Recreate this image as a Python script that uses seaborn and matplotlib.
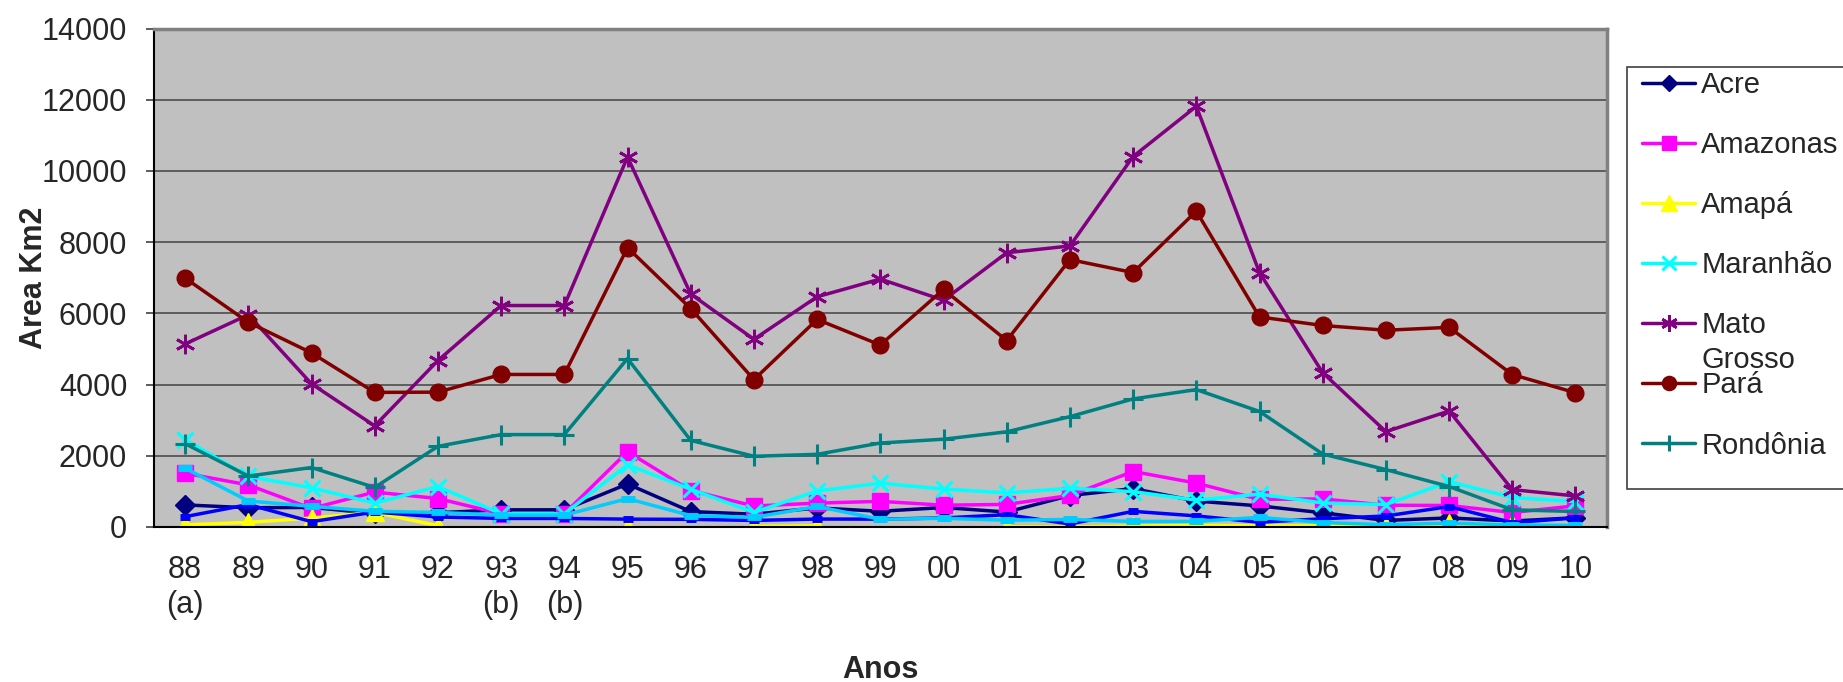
import numpy as np
import pandas as pd
import matplotlib.pyplot as plt
from matplotlib.lines import Line2D
from matplotlib.patches import Rectangle
import seaborn as sns

anos = ["88", "89", "90", "91", "92", "93", "94", "95", "96", "97", "98", "99",
        "00", "01", "02", "03", "04", "05", "06", "07", "08", "09", "10"]
rotulos = ["88\n(a)", "89", "90", "91", "92", "93\n(b)", "94\n(b)", "95", "96", "97",
           "98", "99", "00", "01", "02", "03", "04", "05", "06", "07", "08", "09", "10"]

nan = np.nan
acre = [620, 540, 550, 380, 400, 482, 482, 1208, 433, 358, 536, 441, 547, 419,
        883, 1078, 728, 592, 398, 184, 254, 167, 259]
amazonas = [1510, 1180, 520, 980, 799, 370, 370, 2114, 1023, 589, 670, 720, 612,
            634, 885, 1558, 1232, 775, 788, 610, 604, 405, 595]
amapa = [60, 130, 250, 410, 36, nan, nan, 9, nan, 18, 30, nan, nan, 7, 0, 25,
         46, 33, 30, 39, 100, 70, 53]
maranhao = [2450, 1420, 1100, 670, 1135, 372, 372, 1745, 1061, 409, 1012, 1230,
            1065, 958, 1085, 993, 755, 922, 674, 631, 1271, 828, 712]
mato_grosso = [5140, 5960, 4020, 2840, 4674, 6220, 6220, 10391, 6543, 5271, 6466,
               6963, 6369, 7703, 7892, 10405, 11814, 7145, 4333, 2678, 3258, 1049, 871]
para = [6990, 5750, 4890, 3780, 3787, 4284, 4284, 7845, 6135, 4139, 5829, 5111,
        6671, 5237, 7510, 7145, 8870, 5899, 5659, 5526, 5607, 4281, 3770]
rondonia = [2340, 1430, 1670, 1110, 2265, 2595, 2595, 4730, 2432, 1986, 2041, 2358,
            2465, 2673, 3099, 3597, 3858, 3244, 2049, 1611, 1136, 482, 435]
roraima = [290, 630, 150, 420, 281, 240, 240, 220, 214, 184, 223, 220, 253, 345,
           84, 439, 311, 133, 231, 309, 574, 121, 256]
tocantins = [1650, 730, 580, 440, 409, 333, 333, 797, 320, 273, 576, 216, 244, 189,
             212, 156, 158, 271, 124, 63, 107, 61, 49]

estados = ["Acre", "Amazonas", "Amapá", "Maranhão", "Mato Grosso", "Pará",
           "Rondônia", "Roraima", "Tocantins"]
valores = [acre, amazonas, amapa, maranhao, mato_grosso, para, rondonia, roraima, tocantins]

# excel-ish marker styles
estilo = {
    "Acre": dict(color="#000080", marker="D", ms=10, mew=1),
    "Amazonas": dict(color="#FF00FF", marker="s", ms=12, mew=1),
    "Amapá": dict(color="#FFFF00", marker="^", ms=13, mew=1),
    "Maranhão": dict(color="#00FFFF", marker="x", ms=12, mew=2.2),
    "Mato Grosso": dict(color="#800080", marker=(6, 2, 0), ms=14, mew=2),
    "Pará": dict(color="#800000", marker="o", ms=12, mew=1),
    "Rondônia": dict(color="#008080", marker="+", ms=14, mew=2.2),
    "Roraima": dict(color="#0000FF", marker="_", ms=7, mew=5),
    "Tocantins": dict(color="#00CCFF", marker="_", ms=10, mew=5),
}

sns.set_style("white")
plt.rcParams["font.family"] = ["Liberation Sans", "DejaVu Sans"]

fig = plt.figure(figsize=(18.43, 6.82), dpi=100)
ax = fig.add_axes([0.0833, 0.2273, 0.7887, 0.7309])
ax.set_facecolor("#C0C0C0")

pos = np.arange(len(anos))
for nome, vals in zip(estados, valores):
    df = pd.DataFrame({"pos": pos, "area": vals})
    # separate segments so missing years leave a gap
    df["seg"] = df["area"].isna().cumsum()
    df = df.dropna()
    st = estilo[nome]
    sns.lineplot(data=df, x="pos", y="area", units="seg", estimator=None, sort=False,
                 ax=ax, color=st["color"], linewidth=2.5, marker=st["marker"],
                 markersize=st["ms"], markeredgewidth=st["mew"],
                 markeredgecolor=st["color"], markerfacecolor=st["color"],
                 legend=False)

ax.set_xlim(-0.5, len(anos) - 0.5)
ax.set_ylim(0, 14000)
ax.set_yticks(np.arange(0, 14001, 2000))
ax.set_xticks(pos, rotulos)
ax.set_xticks(np.arange(len(anos) + 1) - 0.5, minor=True)
ax.tick_params(axis="x", which="major", length=0, pad=20.5, labelsize=22)
ax.tick_params(axis="x", which="minor", length=6, width=1.2, color="#404040", direction="out")
ax.tick_params(axis="y", length=6, width=1.2, color="#404040", direction="out",
               pad=13, labelsize=22, left=True)
ax.yaxis.grid(True, color="#555555", linewidth=1.3)
ax.set_axisbelow(True)

for s in ["left", "bottom"]:
    ax.spines[s].set_color("black")
    ax.spines[s].set_linewidth(1.5)
for s in ["top", "right"]:
    ax.spines[s].set_color("#808080")
    ax.spines[s].set_linewidth(2.5)

ax.set_xlabel("Anos", fontsize=22, fontweight="bold")
ax.set_ylabel("Area Km2", fontsize=22, fontweight="bold")
ax.xaxis.set_label_coords(0.5, -0.256)
ax.yaxis.set_label_coords(-0.072, 0.5)

# legend frame (box runs off the right edge like the original)
fig.patches.append(Rectangle((1627 / 1843, 1 - 489 / 682), 0.2, (489 - 67) / 682,
                             transform=fig.transFigure, facecolor="white",
                             edgecolor="#404040", linewidth=1.2, zorder=0))

handles = []
labels = []
for nome in estados[:7]:
    st = estilo[nome]
    handles.append(Line2D([], [], color=st["color"], linewidth=2.5, marker=st["marker"],
                          markersize=st["ms"] * 0.85, markeredgewidth=st["mew"],
                          markeredgecolor=st["color"], markerfacecolor=st["color"]))
    labels.append("Mato" if nome == "Mato Grosso" else nome)

leg = fig.legend(handles, labels, loc="upper left", bbox_to_anchor=(1642 / 1843, 1 - 71 / 682),
                 frameon=False, fontsize=21, handlelength=1.83, handletextpad=0.2,
                 labelspacing=1.1, borderpad=0, borderaxespad=0)

fig.canvas.draw()
bb = leg.get_texts()[4].get_window_extent().transformed(fig.transFigure.inverted())
fig.text(bb.x0, bb.y0 - 0.010, "Grosso", fontsize=21, va="top", ha="left")

fig.savefig("out.png", dpi=100)
